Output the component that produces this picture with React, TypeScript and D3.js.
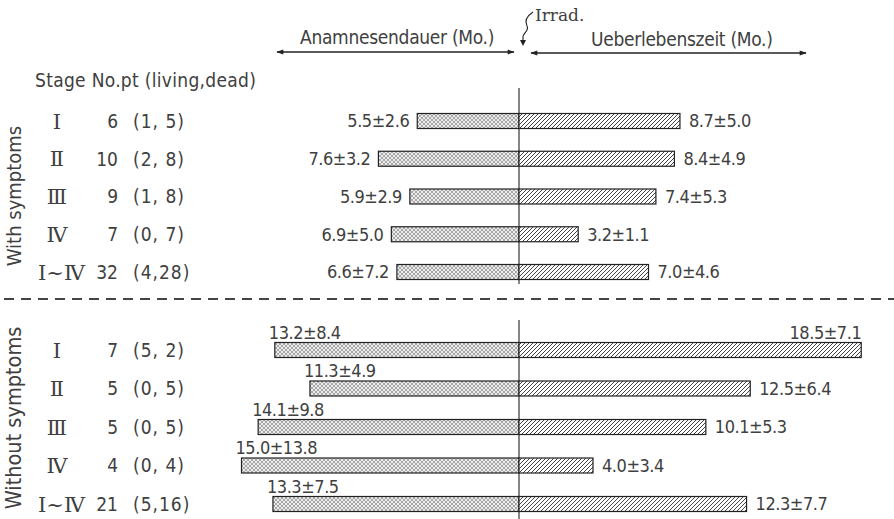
import React from "react";
import * as d3 from "d3";

// Stage labels and patient counts
const stages = ["Ⅰ", "Ⅱ", "Ⅲ", "Ⅳ", "Ⅰ~Ⅳ"];

const withNo = [6, 10, 9, 7, 32];
const withLiving = [1, 2, 1, 0, 4];
const withDead = [5, 8, 8, 7, 28];
const withAnamMean = [5.5, 7.6, 5.9, 6.9, 6.6];
const withAnamSd = [2.6, 3.2, 2.9, 5.0, 7.2];
const withSurvMean = [8.7, 8.4, 7.4, 3.2, 7.0];
const withSurvSd = [5.0, 4.9, 5.3, 1.1, 4.6];

const withoutNo = [7, 5, 5, 4, 21];
const withoutLiving = [5, 0, 0, 0, 5];
const withoutDead = [2, 5, 5, 4, 16];
const withoutAnamMean = [13.2, 11.3, 14.1, 15.0, 13.3];
const withoutAnamSd = [8.4, 4.9, 9.8, 13.8, 7.5];
const withoutSurvMean = [18.5, 12.5, 10.1, 4.0, 12.3];
const withoutSurvSd = [7.1, 6.4, 5.3, 3.4, 7.7];

const W = 894;
const H = 519;
const CX = 519;
const BAR_H = 15;
const INK = "#404040";
const FONT = "'DejaVu Sans Condensed', 'Liberation Sans Narrow', 'DejaVu Sans', sans-serif";
const SERIF = "'DejaVu Serif', 'Liberation Serif', serif";
const VAL_SIZE = 18;
const VAL_SPACING = "-0.45px";

// months -> pixel length, shared by both directions
const len = d3.scaleLinear().domain([0, 20]).range([0, 370]);

const yTop = d3.scalePoint<number>().domain(d3.range(5)).range([121, 272]);
const yBot = d3.scalePoint<number>().domain(d3.range(5)).range([350, 504]);

const fmt = (m: number, s: number) => `${m.toFixed(1)}±${s.toFixed(1)}`;
const pair = (l: number, d: number) => (d >= 10 ? `(${l},${d})` : `(${l}, ${d})`);

type Group = {
  y: d3.ScalePoint<number>;
  no: number[];
  living: number[];
  dead: number[];
  am: number[];
  as: number[];
  sm: number[];
  ss: number[];
  labelsAbove: boolean;
};

const groups: Group[] = [
  { y: yTop, no: withNo, living: withLiving, dead: withDead, am: withAnamMean, as: withAnamSd, sm: withSurvMean, ss: withSurvSd, labelsAbove: false },
  { y: yBot, no: withoutNo, living: withoutLiving, dead: withoutDead, am: withoutAnamMean, as: withoutAnamSd, sm: withoutSurvMean, ss: withoutSurvSd, labelsAbove: true },
];

function Val(props: any) {
  return (
    <text fontFamily={FONT} fontSize={VAL_SIZE} fill={INK} style={{ letterSpacing: VAL_SPACING }} {...props} />
  );
}

function Rows({ g }: { g: Group }) {
  return (
    <g>
      {stages.map((st, i) => {
        const yc = g.y(i) as number;
        const lx = CX - len(g.am[i]);
        const rx = CX + len(g.sm[i]);
        const last = i === 4;
        const rightAbove = g.labelsAbove && i === 0;
        return (
          <g key={i}>
            <text x={last ? 38 : 57} y={yc} dy="0.36em" fontFamily={SERIF} fontSize={21} textAnchor={last ? "start" : "middle"} fill={INK}>
              {st}
            </text>
            <text x={118} y={yc} dy="0.36em" fontFamily={FONT} fontSize={19} textAnchor="end" fill={INK}>
              {g.no[i]}
            </text>
            <text x={133} y={yc} dy="0.36em" fontFamily={FONT} fontSize={19} fill={INK} style={{ letterSpacing: "1px" }}>
              {pair(g.living[i], g.dead[i])}
            </text>

            <rect x={lx} y={yc - BAR_H / 2} width={CX - lx} height={BAR_H} fill="url(#stipple)" stroke="#222" strokeWidth={1.2} />
            <rect x={CX} y={yc - BAR_H / 2} width={rx - CX} height={BAR_H} fill="url(#hatch)" stroke="#222" strokeWidth={1.2} />

            {g.labelsAbove ? (
              <Val x={lx - 6} y={yc - BAR_H / 2 - 4}>{fmt(g.am[i], g.as[i])}</Val>
            ) : (
              <Val x={lx - 8} y={yc} dy="0.36em" textAnchor="end">{fmt(g.am[i], g.as[i])}</Val>
            )}
            {rightAbove ? (
              <Val x={rx} y={yc - BAR_H / 2 - 4} textAnchor="end">{fmt(g.sm[i], g.ss[i])}</Val>
            ) : (
              <Val x={rx + 9} y={yc} dy="0.36em">{fmt(g.sm[i], g.ss[i])}</Val>
            )}
          </g>
        );
      })}
    </g>
  );
}

export default function App() {
  return (
    <svg width={W} height={H} style={{ position: "absolute", left: 0, top: 0, background: "#fff" }}>
      <defs>
        <pattern id="stipple" width={4} height={4} patternUnits="userSpaceOnUse">
          <rect width={4} height={4} fill="#ececec" />
          <path d="M0,0L4,4M4,0L0,4" stroke="#7a7a7a" strokeWidth={0.6} />
        </pattern>
        <pattern id="hatch" width={4} height={4} patternUnits="userSpaceOnUse">
          <rect width={4} height={4} fill="#fff" />
          <path d="M-1,1L1,-1M0,4L4,0M3,5L5,3" stroke="#444" strokeWidth={1} />
        </pattern>
        <marker id="arr" viewBox="0 0 10 10" refX={9} refY={5} markerWidth={9} markerHeight={7} orient="auto-start-reverse" markerUnits="userSpaceOnUse">
          <path d="M0,1.5L10,5L0,8.5Z" fill="#222" />
        </marker>
      </defs>

      {/* header */}
      <text x={300} y={44} fontFamily={FONT} fontSize={19} fill={INK} style={{ letterSpacing: "-0.3px" }}>Anamnesendauer (Mo.)</text>
      <text x={591} y={46} fontFamily={FONT} fontSize={19} fill={INK} style={{ letterSpacing: "-0.3px" }}>Ueberlebenszeit (Mo.)</text>
      <text x={535} y={21} fontFamily={SERIF} fontSize={17} fill={INK}>Irrad.</text>
      <line x1={277} y1={52} x2={514} y2={52} stroke="#222" strokeWidth={1.4} markerStart="url(#arr)" markerEnd="url(#arr)" />
      <line x1={531} y1={53} x2={806} y2={53} stroke="#222" strokeWidth={1.4} markerStart="url(#arr)" markerEnd="url(#arr)" />
      <path d="M533,12 C527,16 524,20 527,26 C530,31 522,33 523,38 L523,41" fill="none" stroke="#222" strokeWidth={1.1} />
      <path d="M520,40 L526,40 L523,46 Z" fill="#222" />

      <text x={35} y={87} fontFamily={FONT} fontSize={19} fill={INK} style={{ letterSpacing: "0.3px" }}>Stage No.pt (living,dead)</text>

      {/* group titles */}
      <text transform="translate(21,196) rotate(-90)" textAnchor="middle" fontFamily={FONT} fontSize={20} fill={INK}>With symptoms</text>
      <text transform="translate(21,418) rotate(-90)" textAnchor="middle" fontFamily={FONT} fontSize={21.5} fill={INK}>Without symptoms</text>

      {/* irradiation axis */}
      <line x1={CX} y1={88} x2={CX} y2={284} stroke="#222" strokeWidth={1.1} />
      <line x1={CX} y1={320} x2={CX} y2={H} stroke="#222" strokeWidth={1.1} />

      {/* separator */}
      <line x1={4} y1={299} x2={W} y2={299} stroke="#444" strokeWidth={2} strokeDasharray="10 7" />

      {groups.map((g, k) => (
        <Rows key={k} g={g} />
      ))}
    </svg>
  );
}
